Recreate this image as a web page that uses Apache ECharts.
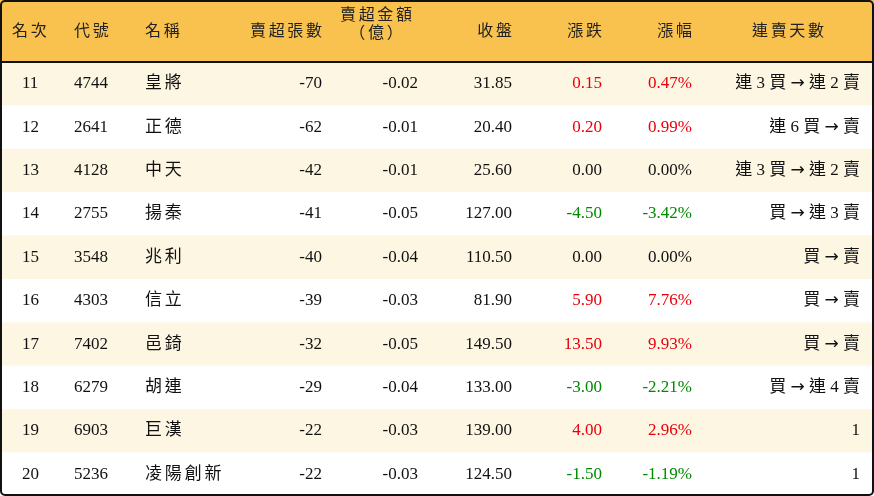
<!DOCTYPE html>
<html><head><meta charset="utf-8">
<script src="https://cdn.jsdelivr.net/npm/echarts@6/dist/echarts.min.js"></script>
<style>html,body{margin:0;padding:0;background:#fff}#c{width:874px;height:496px}</style>
</head><body><div id="c"></div>
<script>
const headers = ['名次','代號','名稱','賣超張數','賣超金額\n（億）','收盤','漲跌','漲幅','連賣天數'];
const ranks = ['11','12','13','14','15','16','17','18','19','20'];
const codes = ['4744','2641','4128','2755','3548','4303','7402','6279','6903','5236'];
const names = ['皇將','正德','中天','揚秦','兆利','信立','邑錡','胡連','巨漢','凌陽創新'];
const lots = [-70,-62,-42,-41,-40,-39,-32,-29,-22,-22];
const amounts = ['-0.02','-0.01','-0.01','-0.05','-0.04','-0.03','-0.05','-0.04','-0.03','-0.03'];
const closes = ['31.85','20.40','25.60','127.00','110.50','81.90','149.50','133.00','139.00','124.50'];
const changes = ['0.15','0.20','0.00','-4.50','0.00','5.90','13.50','-3.00','4.00','-1.50'];
const pcts = ['0.47%','0.99%','0.00%','-3.42%','0.00%','7.76%','9.93%','-2.21%','2.96%','-1.19%'];
const streaks = ['連 3 買 → 連 2 賣','連 6 買 → 賣','連 3 買 → 連 2 賣','買 → 連 3 賣','買 → 賣','買 → 賣','買 → 賣','買 → 連 4 賣','1','1'];

const font = '"Liberation Serif","Noto Sans CJK TC",serif';
const cols = [
  {x:22, align:'left'}, {x:74, align:'left'}, {x:145, align:'left'},
  {x:322, align:'right'}, {x:418, align:'right'}, {x:512, align:'right'},
  {x:602, align:'right'}, {x:692, align:'right'}, {x:860, align:'right'}
];
function colorOf(v){ const n=parseFloat(v); return n>0?'#e8000b':(n<0?'#008a00':'#111'); }
function spaced(s){ return s.split('\n').map(l=>l.split('').join('\u2006')).join('\n'); }

const chart = echarts.init(document.getElementById('c'));
chart.setOption({
  animation:false,
  grid:{left:0,right:0,top:62,bottom:0},
  xAxis:{type:'value',min:0,max:874,show:false},
  yAxis:{type:'category',data:ranks,inverse:true,show:false},
  graphic:[
    {type:'rect',shape:{x:0,y:0,width:874,height:62},style:{fill:'#f9c24f'},z:1},
    ...headers.map((h,i)=>({type:'text',z:5,
      x: i===8?788:(i===4?376:(i===0?12:cols[i].x)), y: i===4?25:32,
      style:{text:spaced(h),font:'16px '+font,fill:'#222',
        align: i===8?'center':(i===4?'center':cols[i].align),verticalAlign:'middle',lineHeight:18}})),
    {type:'rect',shape:{x:0,y:61,width:874,height:2},style:{fill:'#111'},z:6},
    {type:'rect',shape:{x:1,y:1,width:872,height:494,r:4},style:{fill:'none',stroke:'#111',lineWidth:2},z:10}
  ],
  series:[{
    type:'custom',
    data:ranks.map((r,i)=>[i]),
    renderItem:function(params,api){
      const i=api.value(0);
      const c=api.coord([0,i]); const h=api.size([0,1])[1];
      const y=c[1];
      const vals=[ranks[i],codes[i],spaced(names[i]),String(lots[i]),amounts[i],closes[i],changes[i],pcts[i],streaks[i]];
      const children=[{type:'rect',shape:{x:0,y:y-h/2,width:874,height:h},style:{fill:i%2===0?'#fdf6e3':'#ffffff'}}];
      vals.forEach((v,k)=>{
        let text=v, rich=undefined;
        if(k===8){
          text=v.split('→').join('{a|→}');
          rich={a:{font:'17px "DejaVu Sans",sans-serif',fill:'#111'}};
        }
        children.push({type:'text',x:cols[k].x,y:y,style:{text:text,rich:rich,font:'17px '+font,
          fill:(k===6||k===7)?colorOf(v):'#111',align:cols[k].align,verticalAlign:'middle'}});
      });
      return {type:'group',children};
    }
  }]
});
</script></body></html>
